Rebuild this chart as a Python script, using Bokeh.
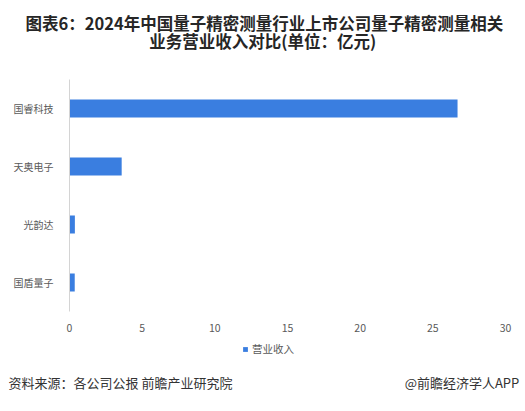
from bokeh.plotting import figure
from bokeh.models import Legend, LegendItem, FactorRange, Title, Range1d
from bokeh.layouts import column
from bokeh.embed import file_html
from bokeh.resources import INLINE

# data (top to bottom as shown)
companies = ["国睿科技", "天奥电子", "光韵达", "国盾量子"]
revenue = [26.7, 3.59, 0.37, 0.36]
series_name = "营业收入"
x_ticks = [0, 5, 10, 15, 20, 25, 30]

title_lines = ["图表6：2024年中国量子精密测量行业上市公司量子精密测量相关",
               "业务营业收入对比(单位：亿元)"]
source_text = "资料来源：各公司公报 前瞻产业研究院"
brand_text = "@前瞻经济学人APP"

CJK = "Noto Sans CJK SC"
BAR = "#3a7ee0"
GREY = "#595959"
IDSP = "\u3000"

factors = list(reversed(companies))
vals = list(reversed(revenue))

W = 525
FL, FR, FT = 69, 20, 79

# ---------------- main chart
p = figure(width=W, height=336, y_range=FactorRange(factors=factors), x_range=(0, 30),
           output_backend="svg", toolbar_location=None, title=None,
           min_border_left=FL, min_border_right=FR, min_border_top=FT, min_border_bottom=25)
p.outline_line_color = None
p.background_fill_color = "white"
p.border_fill_color = "white"
p.xgrid.grid_line_color = None
p.ygrid.grid_line_color = None

p.hbar(y=factors, right=vals, left=0, height=0.31, color=BAR, line_color=None)

p.xaxis.ticker = x_ticks
p.xaxis.axis_line_color = None
p.xaxis.major_tick_line_color = None
p.xaxis.minor_tick_line_color = None
p.xaxis.major_label_standoff = 6
p.xaxis.major_label_text_font = CJK
p.xaxis.major_label_text_font_size = "10.5px"
p.xaxis.major_label_text_color = GREY

p.yaxis.axis_line_color = "#d4d4d4"
p.yaxis.major_tick_line_color = None
p.yaxis.minor_tick_line_color = None
p.yaxis.major_label_standoff = 10
p.yaxis.major_label_text_font = CJK
p.yaxis.major_label_text_font_size = "10px"
p.yaxis.major_label_text_color = GREY

# blank spacer between frame and title (added first: sits nearest the frame)
p.add_layout(Title(text=IDSP, text_font=CJK, text_font_size="10px", standoff=9.5,
                   text_color="white"), "above")
# title (two lines, second indented with ideographic spaces so it is centred)
title_text = title_lines[0] + "\n" + IDSP * 7 + "\u2002" + title_lines[1]
p.add_layout(Title(text=title_text, align="left", offset=25 - FL, vertical_align="bottom",
                   text_font=CJK, text_font_style="bold", text_font_size="16.5px",
                   text_line_height=0.75, text_color="#262626", standoff=0), "above")

# ---------------- legend + footer strip
lf = figure(width=W, height=64, x_range=Range1d(0, 1), y_range=Range1d(0, 1),
            output_backend="svg", toolbar_location=None, title=None,
            x_axis_location=None, y_axis_location=None,
            min_border_left=FL, min_border_right=FR, min_border_top=0, min_border_bottom=0)
lf.outline_line_color = None
lf.xgrid.grid_line_color = None
lf.ygrid.grid_line_color = None
lf.background_fill_color = "white"
lf.border_fill_color = "white"
# zero-width key glyph used only for the legend swatch
key = lf.hbar(y=[0], right=[0], left=[0], height=0.0, color=BAR, line_color=None)

legend = Legend(items=[LegendItem(label=series_name, renderers=[key])],
                location=(242 - FL, 8), orientation="horizontal",
                glyph_width=6, glyph_height=6, label_height=12, label_standoff=4,
                padding=0, margin=0, border_line_color=None, background_fill_alpha=0,
                label_text_font=CJK, label_text_font_size="10.5px", label_text_color=GREY)
lf.add_layout(legend)

footer_text = source_text + IDSP * 13 + "\u2005" + brand_text
lf.add_layout(Title(text=footer_text, align="left", offset=8 - FL, vertical_align="middle",
                    text_font=CJK, text_font_style="normal", text_font_size="13px",
                    text_color="#333333", standoff=15), "below")

layout = column(p, lf, spacing=0)
open("out.html", "w").write(file_html(layout, INLINE))
